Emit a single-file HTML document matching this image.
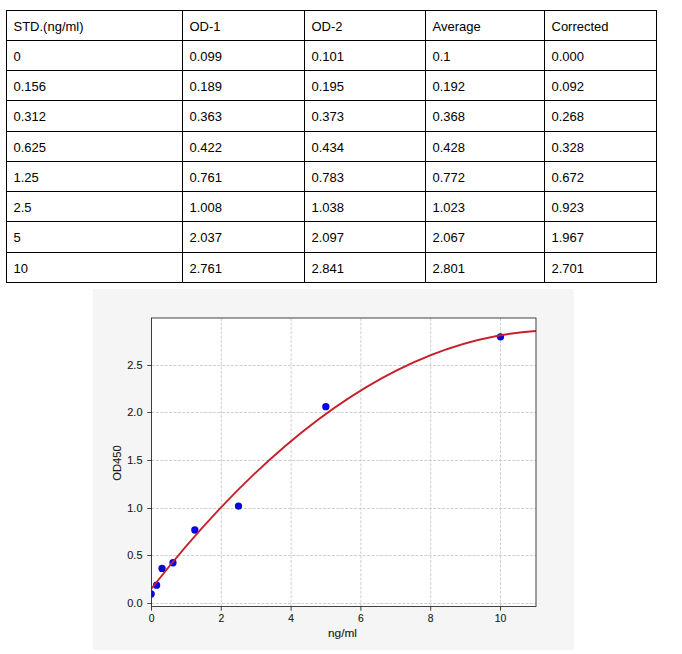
<!DOCTYPE html>
<html>
<head>
<meta charset="utf-8">
<style>
html,body{margin:0;padding:0;background:#fff;}
body{width:682px;height:654px;position:relative;overflow:hidden;}
table{position:absolute;left:6px;top:10px;border-collapse:collapse;table-layout:fixed;
  font-family:"Liberation Sans",sans-serif;font-size:13px;color:#000;}
td{border:1px solid #000;padding:0 0 0 6.5px;vertical-align:top;white-space:nowrap;line-height:15px;}
td div{position:relative;top:8px;}
svg{position:absolute;left:0;top:0;}
</style>
</head>
<body>
<table>
<colgroup><col style="width:176px"><col style="width:122px"><col style="width:121px"><col style="width:119px"><col style="width:112px"></colgroup>
<tr style="height:30px"><td><div>STD.(ng/ml)</div></td><td><div>OD-1</div></td><td><div>OD-2</div></td><td><div>Average</div></td><td><div>Corrected</div></td></tr>
<tr style="height:30px"><td><div>0</div></td><td><div>0.099</div></td><td><div>0.101</div></td><td><div>0.1</div></td><td><div>0.000</div></td></tr>
<tr style="height:30px"><td><div>0.156</div></td><td><div>0.189</div></td><td><div>0.195</div></td><td><div>0.192</div></td><td><div>0.092</div></td></tr>
<tr style="height:31px"><td><div>0.312</div></td><td><div>0.363</div></td><td><div>0.373</div></td><td><div>0.368</div></td><td><div>0.268</div></td></tr>
<tr style="height:30px"><td><div>0.625</div></td><td><div>0.422</div></td><td><div>0.434</div></td><td><div>0.428</div></td><td><div>0.328</div></td></tr>
<tr style="height:30px"><td><div>1.25</div></td><td><div>0.761</div></td><td><div>0.783</div></td><td><div>0.772</div></td><td><div>0.672</div></td></tr>
<tr style="height:30px"><td><div>2.5</div></td><td><div>1.008</div></td><td><div>1.038</div></td><td><div>1.023</div></td><td><div>0.923</div></td></tr>
<tr style="height:31px"><td><div>5</div></td><td><div>2.037</div></td><td><div>2.097</div></td><td><div>2.067</div></td><td><div>1.967</div></td></tr>
<tr style="height:30px"><td><div>10</div></td><td><div>2.761</div></td><td><div>2.841</div></td><td><div>2.801</div></td><td><div>2.701</div></td></tr>
</table>

<svg width="682" height="654" viewBox="0 0 682 654">
  <defs>
    <clipPath id="ax"><rect x="151.5" y="318" width="384.5" height="288.5"/></clipPath>
  </defs>
  <rect x="93" y="289" width="481" height="361" fill="#f5f5f5"/>
  <rect x="151.5" y="318" width="384.5" height="288.5" fill="#fff"/>
  <g stroke="#c4c4c4" stroke-width="0.8" stroke-dasharray="3,1.4" fill="none">
    <path d="M151.5,318V606.5M221.3,318V606.5M291.1,318V606.5M360.9,318V606.5M430.7,318V606.5M500.5,318V606.5"/>
    <path d="M151.5,603.5H536M151.5,555.5H536M151.5,508.5H536M151.5,460.5H536M151.5,412.5H536M151.5,365.5H536"/>
  </g>
  <g clip-path="url(#ax)">
    <g fill="#0505e6">
      <circle cx="151.15" cy="593.98" r="3.65"/>
      <circle cx="156.60" cy="585.22" r="3.65"/>
      <circle cx="162.05" cy="568.47" r="3.65"/>
      <circle cx="172.98" cy="562.75" r="3.65"/>
      <circle cx="194.82" cy="530.01" r="3.65"/>
      <circle cx="238.49" cy="506.11" r="3.65"/>
      <circle cx="325.83" cy="406.72" r="3.65"/>
      <circle cx="500.50" cy="336.84" r="3.65"/>
    </g>
    <path d="M151.5,588.53 Q344.00,342.70 536.5,330.99" fill="none" stroke="#c8202a" stroke-width="1.85"/>
  </g>
  <g stroke="#222" stroke-width="0.85" fill="none">
    <rect x="151.5" y="318" width="384.5" height="288.5"/>
    <path d="M147.3,603.5H151.5M147.3,555.5H151.5M147.3,508.5H151.5M147.3,460.5H151.5M147.3,412.5H151.5M147.3,365.5H151.5"/>
    <path d="M151.5,606.5V610.7M221.3,606.5V610.7M291.1,606.5V610.7M360.9,606.5V610.7M430.7,606.5V610.7M500.5,606.5V610.7"/>
  </g>
  <g font-family="Liberation Sans, sans-serif" font-size="10.3" fill="#1a1a1a" stroke="#1a1a1a" stroke-width="0.12">
    <g text-anchor="end" lengthAdjust="spacingAndGlyphs">
      <text x="142.5" y="607.4" textLength="15.2" lengthAdjust="spacingAndGlyphs">0.0</text>
      <text x="142.5" y="559.4" textLength="15.2" lengthAdjust="spacingAndGlyphs">0.5</text>
      <text x="142.5" y="512.4" textLength="15.2" lengthAdjust="spacingAndGlyphs">1.0</text>
      <text x="142.5" y="464.4" textLength="15.2" lengthAdjust="spacingAndGlyphs">1.5</text>
      <text x="142.5" y="416.4" textLength="15.2" lengthAdjust="spacingAndGlyphs">2.0</text>
      <text x="142.5" y="369.4" textLength="15.2" lengthAdjust="spacingAndGlyphs">2.5</text>
    </g>
    <g text-anchor="middle">
      <text x="151.5" y="622">0</text>
      <text x="221.3" y="622">2</text>
      <text x="291.1" y="622">4</text>
      <text x="360.9" y="622">6</text>
      <text x="430.7" y="622">8</text>
      <text x="500.5" y="622" textLength="11.6" lengthAdjust="spacingAndGlyphs">10</text>
      <text x="342.5" y="637" textLength="29" lengthAdjust="spacingAndGlyphs">ng/ml</text>
      <text x="0" y="0" transform="translate(121.3,463) rotate(-90)" textLength="35.5" lengthAdjust="spacingAndGlyphs">OD450</text>
    </g>
  </g>
</svg>
</body>
</html>
